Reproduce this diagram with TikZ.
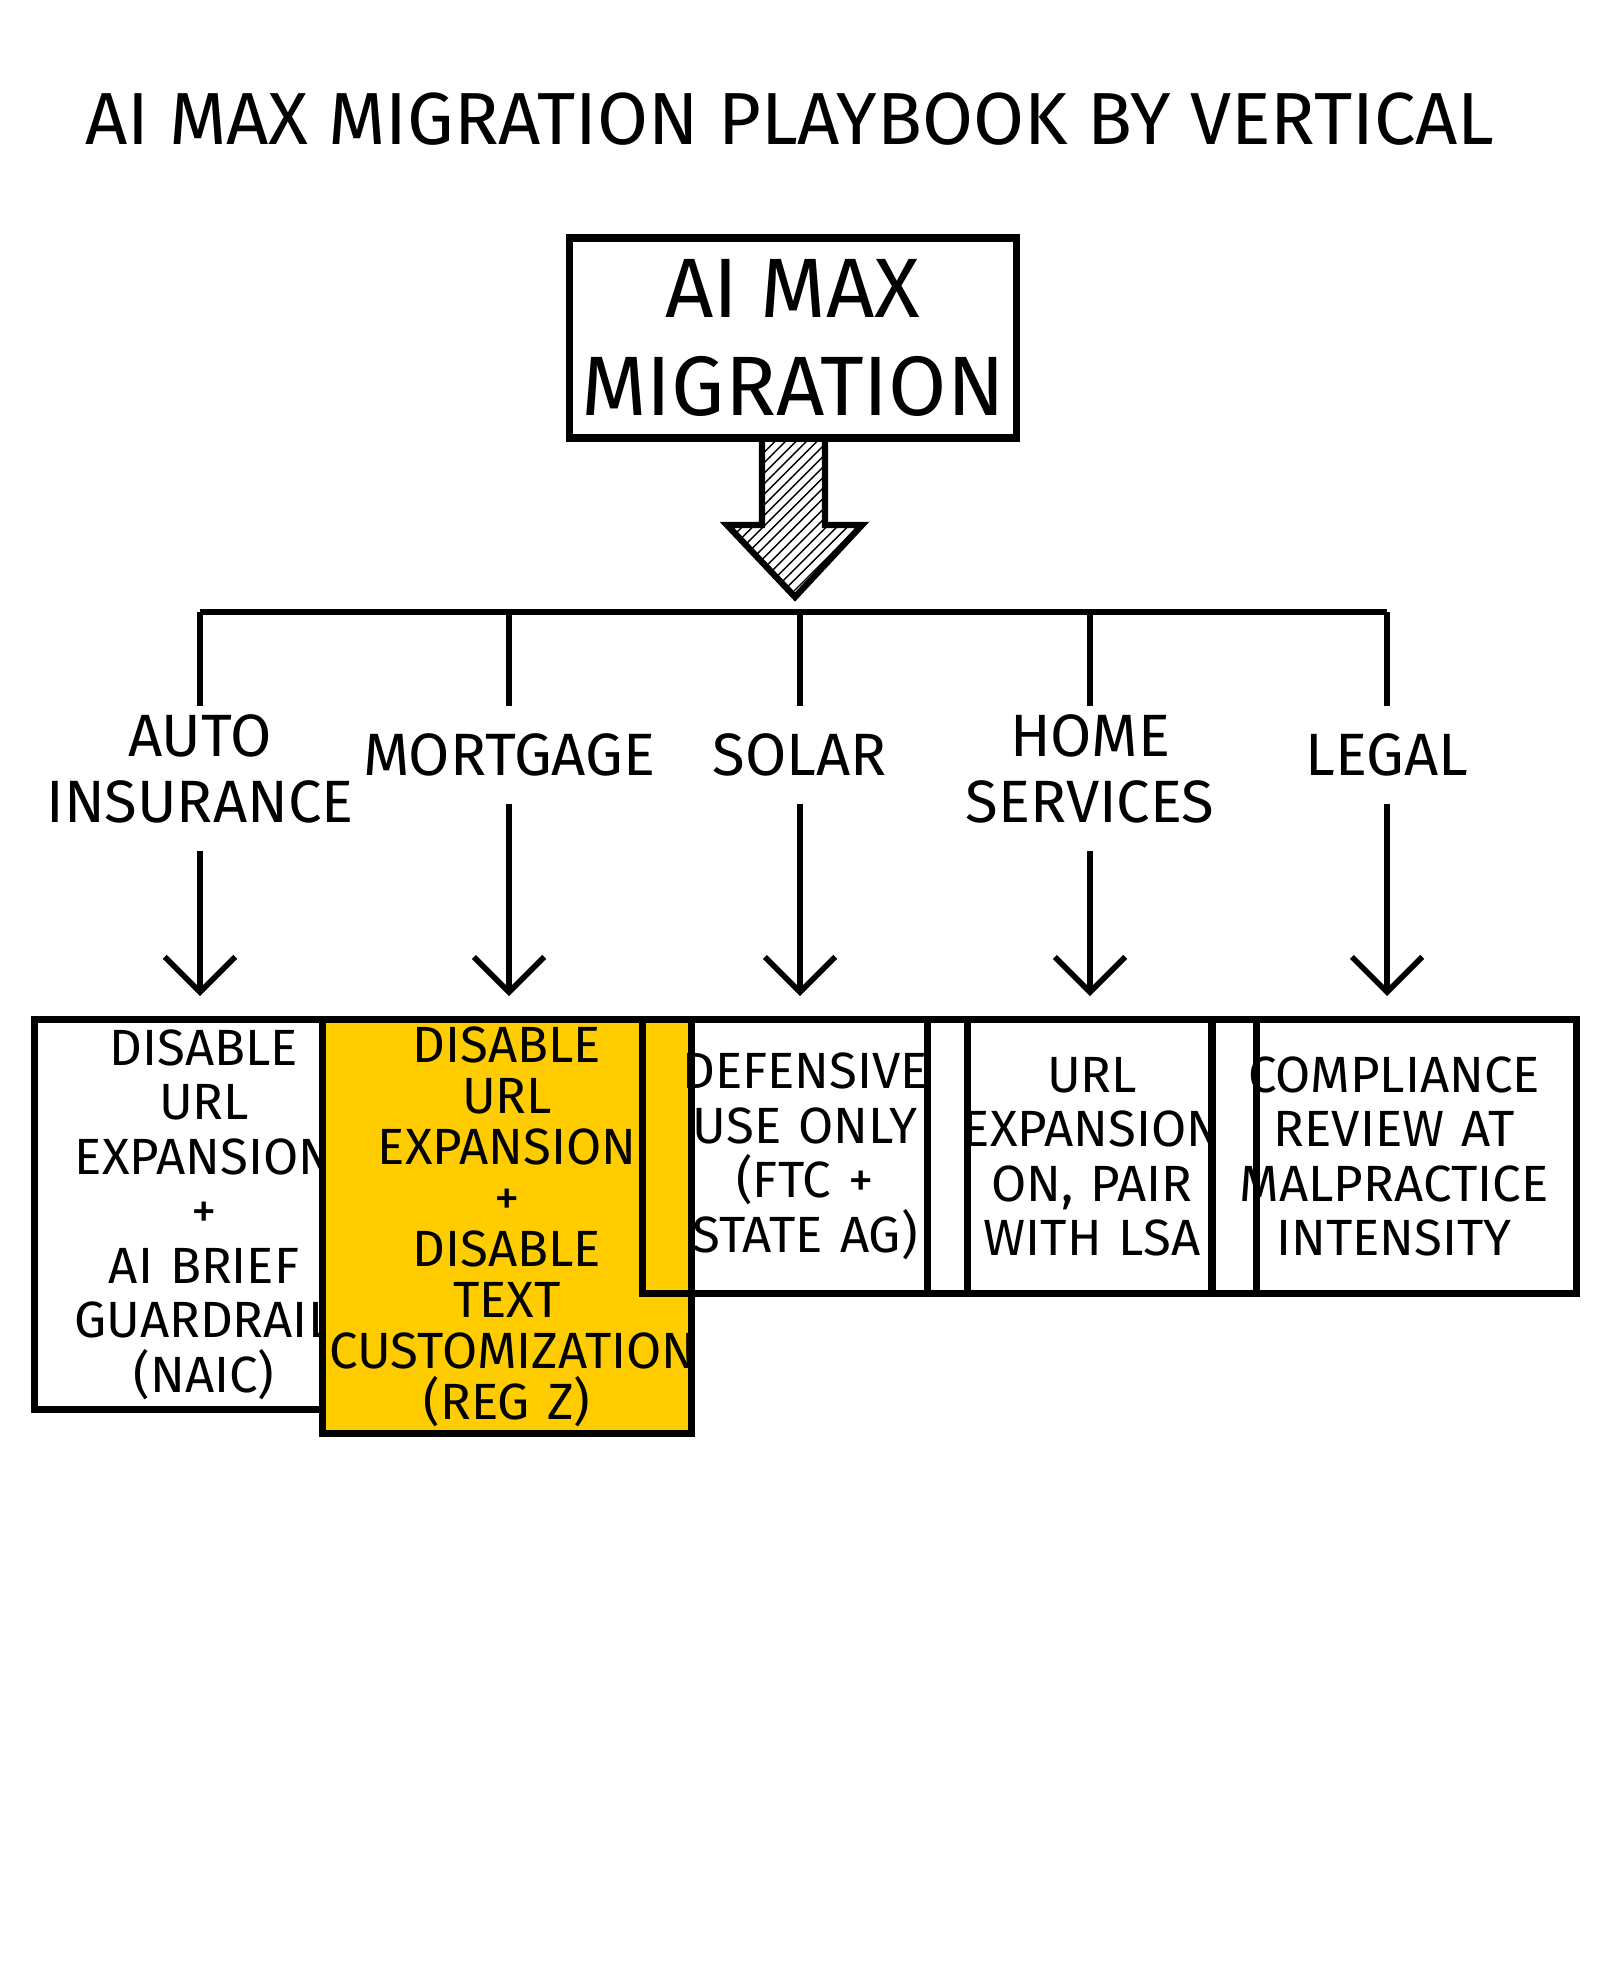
\documentclass[tikz,border=0pt]{standalone}
\usepackage{fontspec}
\setmainfont{Fira Sans}
\usetikzlibrary{positioning, arrows.meta, patterns}

\tikzset{
  head/.style={font=\fontsize{17}{19}\selectfont, align=center},
  plan/.style={draw, line width=2pt, anchor=north, align=center, inner sep=2pt,
    font=\fontsize{14.5}{15.5}\selectfont},
  flow/.style={line width=1.6pt, -{Straight Barb[length=10pt, width=20pt, line width=1.6pt]}},
  tree/.style={line width=1.8pt}
}

\begin{document}
\begin{tikzpicture}
\useasboundingbox (0,0) rectangle (16,-19.86);

% title
\node[font=\fontsize{21}{24}\selectfont] (title) at (7.9,-1.19) {AI MAX MIGRATION PLAYBOOK BY VERTICAL};

% root
\node[draw, line width=2pt, minimum width=4.2cm, minimum height=2cm, align=center,
  font=\fontsize{24}{28}\selectfont] (root) at (7.93,-3.38) {AI MAX\\MIGRATION};

% big hatched arrow
\draw[line width=1.8pt, pattern=north east lines, pattern color=black]
  (7.62,-4.38) -- (8.25,-4.38) -- (8.25,-5.25) -- (8.62,-5.25) -- (7.95,-5.97)
  -- (7.27,-5.25) -- (7.62,-5.25) -- cycle;

% bar
\coordinate (barL) at (2.0,-6.12);
\coordinate (barR) at (13.87,-6.12);
\draw[tree] (barL) -- (barR);

% columns
\foreach \x/\n in {2.0/a, 5.09/b, 8.0/c, 10.9/d, 13.87/e} {
  \coordinate (top\n) at (\x,-6.12);
  \coordinate (drop\n) at (\x,-7.06);
  \draw[tree] (top\n) -- (drop\n);
}

% labels
\node[head] (la) at (2.0,-7.69) {AUTO\\INSURANCE};
\node[head] (lb) at (5.09,-7.55) {MORTGAGE};
\node[head] (lc) at (8.0,-7.55) {SOLAR};
\node[head] (ld) at (10.9,-7.69) {HOME\\SERVICES};
\node[head] (le) at (13.87,-7.55) {LEGAL};

% boxes
\node[plan, text width=3.25cm, minimum height=3.9cm] (ba) at (2.04,-10.16)
  {DISABLE\\URL\\EXPANSION\\+\\AI BRIEF\\GUARDRAIL\\(NAIC)};
\node[plan, fill={rgb,255:red,255;green,204;blue,0}, text width=3.55cm, minimum height=4.05cm,
  font=\fontsize{14.5}{14.5}\selectfont] (bb) at (5.07,-10.16)
  {DISABLE\\URL\\EXPANSION\\+\\DISABLE\\TEXT\\CUSTOMIZATION\\(REG Z)};
\node[plan, text width=3.1cm, minimum height=2.74cm] (bc) at (8.05,-10.16)
  {DEFENSIVE\\USE ONLY\\(FTC +\\STATE AG)};
\node[plan, text width=3.15cm, minimum height=2.74cm] (bd) at (10.92,-10.16)
  {URL\\EXPANSION\\ON, PAIR\\WITH LSA};
\node[plan, text width=3.5cm, minimum height=2.74cm] (be) at (13.94,-10.16)
  {COMPLIANCE\\REVIEW AT\\MALPRACTICE\\INTENSITY};

% arrows
\foreach \n in {a,b,c,d,e} {
  \coordinate (s\n) at ([yshift=-0.15cm]l\n.south);
  \coordinate (t\n) at ([yshift=0.2cm]s\n |- b\n.north);
  \draw[flow] (s\n) -- (t\n);
}
\end{tikzpicture}
\end{document}
